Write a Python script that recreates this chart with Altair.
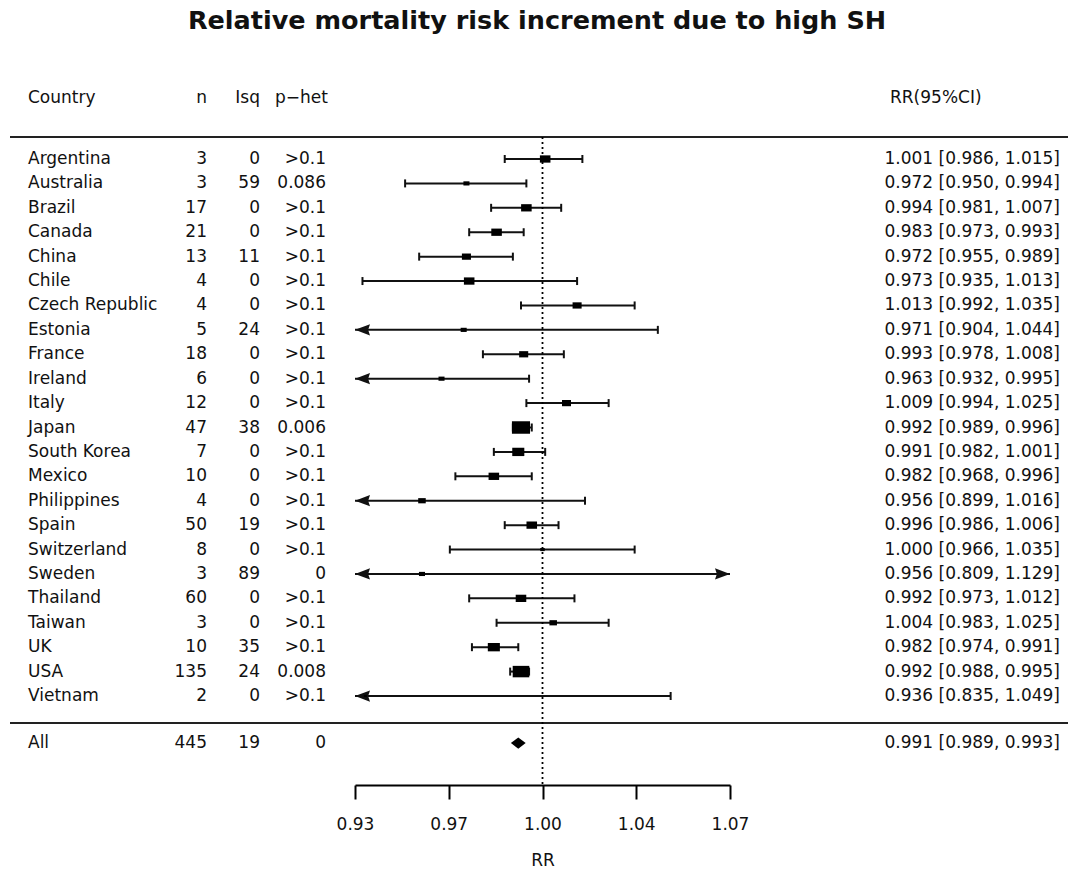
import numpy as np
import pandas as pd
import altair as alt

# ---------------- data ----------------
countries = ["Argentina", "Australia", "Brazil", "Canada", "China", "Chile",
             "Czech Republic", "Estonia", "France", "Ireland", "Italy", "Japan",
             "South Korea", "Mexico", "Philippines", "Spain", "Switzerland",
             "Sweden", "Thailand", "Taiwan", "UK", "USA", "Vietnam"]
n_studies = [3, 3, 17, 21, 13, 4, 4, 5, 18, 6, 12, 47, 7, 10, 4, 50, 8, 3, 60, 3, 10, 135, 2]
isq = [0, 59, 0, 0, 11, 0, 0, 24, 0, 0, 0, 38, 0, 0, 0, 19, 0, 89, 0, 0, 35, 24, 0]
p_het = [">0.1", "0.086", ">0.1", ">0.1", ">0.1", ">0.1", ">0.1", ">0.1", ">0.1",
         ">0.1", ">0.1", "0.006", ">0.1", ">0.1", ">0.1", ">0.1", ">0.1", "0",
         ">0.1", ">0.1", ">0.1", "0.008", ">0.1"]
rr = [1.001, 0.972, 0.994, 0.983, 0.972, 0.973, 1.013, 0.971, 0.993, 0.963, 1.009,
      0.992, 0.991, 0.982, 0.956, 0.996, 1.000, 0.956, 0.992, 1.004, 0.982, 0.992, 0.936]
rr_lo = [0.986, 0.950, 0.981, 0.973, 0.955, 0.935, 0.992, 0.904, 0.978, 0.932, 0.994,
         0.989, 0.982, 0.968, 0.899, 0.986, 0.966, 0.809, 0.973, 0.983, 0.974, 0.988, 0.835]
rr_hi = [1.015, 0.994, 1.007, 0.993, 0.989, 1.013, 1.035, 1.044, 1.008, 0.995, 1.025,
         0.996, 1.001, 0.996, 1.016, 1.006, 1.035, 1.129, 1.012, 1.025, 0.991, 0.995, 1.049]
# relative weights (box areas)
weight = [49, 16, 49, 49, 36, 49, 36, 16, 36, 16, 36, 144, 64, 49, 25, 49, 9, 16, 49, 25, 64, 121, 4]

all_label = "All"
all_n, all_isq, all_phet = 445, 19, "0"
all_rr, all_lo, all_hi = 0.991, 0.989, 0.993

tick_log = [-0.07, -0.035, 0.0, 0.035, 0.07]

# ---------------- build tables ----------------
tick_vals = [float(np.exp(t)) for t in tick_log]
dlo, dhi = tick_vals[0], tick_vals[-1]

df = pd.DataFrame({"country": countries, "n": n_studies, "isq": isq, "phet": p_het,
                   "rr": rr, "lo": rr_lo, "hi": rr_hi, "weight": weight})
df["pos"] = np.arange(len(df), dtype=float)
df["lo_c"] = df["lo"].clip(lower=dlo)
df["hi_c"] = df["hi"].clip(upper=dhi)
df["left"] = df["lo"] < dlo
df["right"] = df["hi"] > dhi

sum_pos = len(df) - 1 + 1.93
sdf = pd.DataFrame({"country": [all_label], "n": [all_n], "isq": [all_isq], "phet": [all_phet],
                    "rr": [all_rr], "lo": [all_lo], "hi": [all_hi], "pos": [sum_pos]})

tab = pd.concat([df[["country", "n", "isq", "phet", "rr", "lo", "hi", "pos"]], sdf], ignore_index=True)
tab["ci"] = tab.apply(lambda r: f"{r.rr:.3f} [{r.lo:.3f}, {r.hi:.3f}]", axis=1)
tab["n"] = tab["n"].astype(str)
tab["isq"] = tab["isq"].astype(str)

one = pd.DataFrame({"k": [0]})
ref = pd.DataFrame({"v": [1.0]})

FONT = "DejaVu Sans"
FS = 17
INK = "#111111"

xscale = alt.Scale(type="log", domain=[dlo, dhi], range=[355, 730], nice=False, zero=False)
yscale = alt.Scale(domain=[0, len(df) - 1], range=[159, 696], nice=False, zero=False)
Y = alt.Y("pos:Q", scale=yscale, axis=None)

xaxis = alt.Axis(values=tick_vals, format=".2f", tickSize=14, tickWidth=2, tickColor="black",
                 domainWidth=2, domainColor="black", grid=False, labelFlush=False,
                 labelOverlap=False,
                 labelFont=FONT, labelFontSize=FS, labelColor=INK, labelPadding=17,
                 title="RR", titleFont=FONT, titleFontSize=FS, titleFontWeight="normal",
                 titleColor=INK, titlePadding=20)


def X(field):
    return alt.X(f"{field}:Q", scale=xscale, axis=xaxis, title="RR")


# ---------------- forest layers ----------------
whisk = alt.Chart(df).mark_rule(color=INK, strokeWidth=2).encode(
    x=X("lo_c"), x2="hi_c:Q", y=Y)

cap_lo = alt.Chart(df[~df["left"]]).mark_rule(color=INK, strokeWidth=2, yOffset=-4, y2Offset=4).encode(
    x=X("lo"), y=Y, y2="pos:Q")
cap_hi = alt.Chart(df[~df["right"]]).mark_rule(color=INK, strokeWidth=2, yOffset=-4, y2Offset=4).encode(
    x=X("hi"), y=Y, y2="pos:Q")

arrow_l = alt.Chart(df[df["left"]]).mark_point(
    shape="M0,0L2,-0.75L1.75,0L2,0.75Z", filled=True, color=INK, opacity=1, size=225).encode(
    x=X("lo_c"), y=Y)
arrow_r = alt.Chart(df[df["right"]]).mark_point(
    shape="M0,0L-2,-0.75L-1.75,0L-2,0.75Z", filled=True, color=INK, opacity=1, size=225).encode(
    x=X("hi_c"), y=Y)

boxes = alt.Chart(df).mark_point(
    shape="M-1.45,-1L1.45,-1L1.45,1L-1.45,1Z", filled=True, color="black", opacity=1).encode(
    x=X("rr"), y=Y,
    size=alt.Size("weight:Q", scale=alt.Scale(domain=[0, 144], range=[0, 156]), legend=None))

diamond = alt.Chart(sdf).mark_point(
    shape="M-1.3,0L0,-1L1.3,0L0,1Z", filled=True, color="black", opacity=1, size=130).encode(
    x=X("rr"), y=Y)

refline = alt.Chart(ref).mark_rule(color="black", strokeWidth=1.8, strokeDash=[2, 3]).encode(
    x=X("v"), y=alt.value(137), y2=alt.value(785))

# ---------------- separators ----------------
rule_head = alt.Chart(one).mark_rule(color="#222222", strokeWidth=2).encode(
    x=alt.value(10), x2=alt.value(1068), y=alt.value(137))
rule_sum = alt.Chart(one).mark_rule(color="#222222", strokeWidth=2).encode(
    x=alt.value(10), x2=alt.value(1068), y=alt.value(723))


# ---------------- text columns ----------------
def col(field, xpos, align):
    return alt.Chart(tab).mark_text(font=FONT, fontSize=FS, color=INK, align=align,
                                    baseline="middle").encode(
        x=alt.value(xpos), y=Y, text=f"{field}:N")


def head(txt, xpos, align):
    return alt.Chart(one).mark_text(text=txt, font=FONT, fontSize=FS, color=INK, align=align,
                                    baseline="middle").encode(x=alt.value(xpos), y=alt.value(98))


title = alt.Chart(one).mark_text(text="Relative mortality risk increment due to high SH",
                                 font=FONT, fontSize=25.5, fontWeight="bold", color=INK,
                                 align="center", baseline="middle").encode(
    x=alt.value(537), y=alt.value(21))

chart = alt.layer(
    rule_head, rule_sum, whisk, cap_lo, cap_hi, arrow_l, arrow_r, refline, boxes, diamond,
    col("country", 28, "left"), col("n", 207, "right"), col("isq", 260, "right"),
    col("phet", 326, "right"), col("ci", 1060, "right"),
    head("Country", 28, "left"), head("n", 207, "right"), head("Isq", 260, "right"),
    head("p\u2212het", 328, "right"), head("RR(95%CI)", 890, "left"),
    title,
).properties(
    width=1068, height=785, autosize="none",
    padding={"left": 0, "top": 0, "right": 0, "bottom": 84},
).configure_view(stroke=None)

chart.save("out.html", embed_options={"renderer": "svg", "actions": False})
